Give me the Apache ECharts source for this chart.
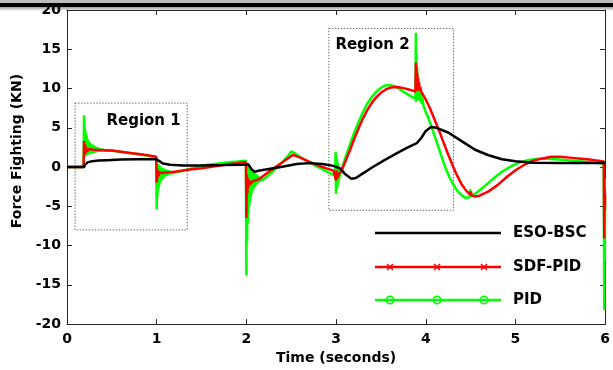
<!DOCTYPE html>
<html>
<head>
<meta charset="utf-8">
<script src="https://cdn.jsdelivr.net/npm/echarts@6/dist/echarts.min.js"></script>
<style>
html,body{margin:0;padding:0;background:#fff;}
#chart{width:613px;height:370px;}
</style>
</head>
<body>
<div id="chart"></div>
<script>
// Axis ticks
const xTicks = [0, 1, 2, 3, 4, 5, 6];
const yTicks = [-20, -15, -10, -5, 0, 5, 10, 15, 20];
const seriesNames = ['ESO-BSC', 'SDF-PID', 'PID'];

// Force fighting per controller, [time (s), force (kN)]
const esoBsc = [
  [0,0],[0.19,0],[0.2,0.3],[0.23,0.6],[0.28,0.75],[0.35,0.82],[0.45,0.88],[0.6,0.95],[0.8,1.0],[0.99,1.0],
  [1.03,0.75],[1.07,0.45],[1.15,0.3],[1.3,0.2],[1.5,0.2],[1.75,0.25],[1.95,0.3],[2.02,0.35],[2.06,-0.3],[2.09,-0.6],
  [2.15,-0.45],[2.25,-0.25],[2.4,0.05],[2.56,0.4],[2.7,0.5],[2.85,0.4],[2.97,0.15],[3.05,-0.2],[3.1,-0.9],[3.17,-1.5],
  [3.22,-1.4],[3.3,-0.8],[3.41,0.0],[3.55,0.95],[3.7,1.9],[3.8,2.5],[3.9,3.05],[3.95,3.7],[4.0,4.6],[4.06,5.1],
  [4.12,5.0],[4.25,4.4],[4.4,3.3],[4.55,2.2],[4.7,1.5],[4.85,1.0],[5.0,0.75],[5.2,0.55],[5.5,0.5],[5.8,0.5],[6.0,0.5]
];

const sdfPid = [
  [0,0],[0.185,0],[0.19,3.3],[0.195,1.5],[0.2,2.9],[0.205,1.7],[0.21,2.6],[0.216,1.9],[0.222,2.4],[0.23,2.0],
  [0.24,2.3],[0.26,2.15],[0.3,2.2],[0.4,2.15],[0.5,2.1],[0.6,1.95],[0.7,1.8],[0.8,1.65],[0.9,1.5],[0.995,1.3],
  [1.0,-2.0],[1.005,-0.3],[1.01,-1.4],[1.016,-0.5],[1.022,-1.1],[1.03,-0.7],[1.04,-0.9],[1.06,-0.75],[1.1,-0.7],[1.2,-0.6],
  [1.35,-0.35],[1.5,-0.15],[1.65,0.1],[1.8,0.35],[1.9,0.5],[1.995,0.65],
  [2.0,-6.5],[2.005,-1.0],[2.01,-3.4],[2.016,-1.4],[2.022,-2.6],[2.03,-1.7],[2.04,-2.2],[2.06,-1.9],[2.1,-1.7],[2.14,-1.55],
  [2.25,-0.6],[2.35,0.2],[2.45,1.0],[2.52,1.55],[2.6,1.2],[2.7,0.7],[2.8,0.2],[2.9,-0.2],[2.97,-0.45],
  [3.0,-1.7],[3.005,-0.4],[3.01,-1.5],[3.016,-0.7],[3.022,-1.3],[3.03,-0.9],[3.04,-1.1],[3.06,-0.5],[3.1,0.6],[3.15,2.0],
  [3.2,3.5],[3.25,4.9],[3.3,6.2],[3.35,7.3],[3.4,8.2],[3.45,8.9],[3.5,9.45],[3.55,9.85],[3.6,10.1],[3.65,10.2],
  [3.7,10.15],[3.75,10.05],[3.8,9.9],[3.85,9.75],[3.885,9.6],
  [3.89,13.3],[3.894,9.7],[3.898,12.6],[3.902,9.8],[3.906,11.9],[3.91,9.8],[3.915,11.3],[3.92,9.8],[3.926,10.8],[3.932,9.7],
  [3.94,10.2],[3.95,9.6],[3.97,9.4],[4.0,8.6],[4.05,7.4],[4.1,6.0],[4.15,4.6],[4.2,3.1],[4.25,1.6],[4.3,0.2],
  [4.35,-1.1],[4.4,-2.2],[4.45,-3.0],[4.5,-3.55],[4.505,-3.1],[4.51,-3.6],[4.55,-3.75],[4.6,-3.65],[4.7,-3.1],[4.8,-2.3],
  [4.9,-1.3],[5.0,-0.4],[5.1,0.3],[5.2,0.8],[5.3,1.1],[5.4,1.3],[5.5,1.3],[5.6,1.2],[5.7,1.1],[5.8,1.0],
  [5.9,0.85],[5.985,0.7],[5.99,-9.1],[5.994,-2.8],[5.997,-5.5],[6.0,-3.5]
];

const pid = [
  [0,0],[0.185,0],
  [0.19,6.6],[0.193,1.3],[0.196,5.4],[0.2,1.4],[0.204,4.7],[0.208,1.4],[0.212,4.2],[0.216,1.5],[0.22,3.9],[0.224,1.5],
  [0.228,3.6],[0.232,1.6],[0.236,3.4],[0.24,1.6],[0.245,3.25],[0.25,1.65],[0.255,3.1],[0.26,1.7],[0.266,3.0],[0.272,1.7],
  [0.278,2.9],[0.284,1.75],[0.29,2.8],[0.296,1.8],[0.302,2.72],[0.308,1.85],[0.314,2.65],[0.32,1.88],[0.326,2.58],[0.332,1.9],
  [0.338,2.52],[0.344,1.93],[0.35,2.46],[0.356,1.96],[0.362,2.41],[0.368,1.98],[0.374,2.36],[0.38,2.0],[0.387,2.32],[0.394,2.02],
  [0.401,2.28],[0.408,2.04],[0.416,2.25],[0.424,2.06],[0.432,2.2],[0.44,2.08],[0.45,2.12],
  [0.5,2.08],[0.6,1.95],[0.7,1.8],[0.8,1.62],[0.9,1.45],[0.995,1.25],
  [1.0,-5.4],[1.004,0.6],[1.008,-3.8],[1.012,0.4],[1.016,-3.0],[1.02,0.3],[1.024,-2.5],[1.028,0.2],[1.032,-2.2],[1.036,0.1],
  [1.04,-2.0],[1.044,0.0],[1.048,-1.8],[1.052,-0.05],[1.056,-1.65],[1.06,-0.1],[1.065,-1.5],[1.07,-0.15],[1.075,-1.4],[1.08,-0.2],
  [1.085,-1.3],[1.09,-0.25],[1.095,-1.2],[1.1,-0.3],[1.106,-1.1],[1.112,-0.35],[1.118,-1.05],[1.124,-0.4],[1.13,-1.0],[1.136,-0.45],
  [1.142,-0.95],[1.148,-0.5],[1.155,-0.9],[1.162,-0.55],[1.17,-0.85],[1.178,-0.6],[1.186,-0.8],[1.195,-0.65],[1.2,-0.75],
  [1.25,-0.6],[1.35,-0.3],[1.5,0.2],[1.65,0.4],[1.8,0.6],[1.9,0.7],[1.995,0.8],
  [2.0,-13.8],[2.004,0.3],[2.008,-9.5],[2.012,0.2],[2.016,-7.2],[2.02,0.1],[2.024,-5.9],[2.028,0.0],[2.032,-5.0],[2.036,-0.1],
  [2.04,-4.4],[2.044,-0.2],[2.048,-3.9],[2.052,-0.3],[2.056,-3.5],[2.06,-0.4],[2.064,-3.2],[2.068,-0.5],[2.072,-2.95],[2.076,-0.6],
  [2.08,-2.75],[2.085,-0.7],[2.09,-2.55],[2.095,-0.8],[2.1,-2.4],[2.105,-0.9],[2.11,-2.25],[2.115,-1.0],[2.12,-2.1],[2.126,-1.1],
  [2.132,-2.0],[2.138,-1.2],[2.144,-1.9],[2.15,-1.3],[2.157,-1.8],[2.164,-1.4],[2.172,-1.7],[2.18,-1.45],[2.19,-1.6],[2.2,-1.5],
  [2.3,-0.5],[2.4,0.6],[2.47,1.5],[2.5,2.0],[2.55,1.7],[2.65,0.9],[2.75,0.3],[2.85,-0.3],[2.95,-0.9],[2.99,-1.0],
  [2.995,1.9],[2.999,-3.4],[3.003,1.5],[3.007,-2.9],[3.011,1.0],[3.015,-2.5],[3.02,0.5],[3.025,-2.1],[3.03,0.1],[3.035,-1.6],
  [3.04,-0.3],[3.045,-1.2],[3.05,-0.5],[3.07,0.0],[3.1,1.1],[3.15,2.7],[3.2,4.3],[3.25,5.7],[3.3,7.0],[3.35,8.1],
  [3.4,8.95],[3.45,9.6],[3.5,10.1],[3.55,10.4],[3.6,10.45],[3.65,10.3],[3.7,10.0],[3.75,9.6],[3.8,9.25],[3.85,8.9],[3.885,8.7],
  [3.89,17.1],[3.893,8.3],[3.896,14.5],[3.9,8.5],[3.904,12.8],[3.908,8.6],[3.912,11.6],[3.916,8.6],[3.92,10.8],[3.925,8.5],
  [3.93,10.2],[3.935,8.4],[3.94,9.7],[3.946,8.2],[3.952,9.3],[3.958,8.0],[3.965,8.7],[3.975,7.8],[4.0,7.0],[4.03,6.2],
  [4.06,5.3],[4.1,3.9],[4.14,2.6],[4.18,1.2],[4.22,-0.1],[4.26,-1.2],[4.3,-2.1],[4.35,-3.0],[4.4,-3.6],[4.45,-3.95],
  [4.49,-3.8],[4.495,-2.8],[4.5,-3.7],[4.55,-3.4],[4.65,-2.5],[4.75,-1.5],[4.85,-0.6],[4.95,0.1],[5.05,0.6],[5.15,0.9],
  [5.25,1.05],[5.35,1.05],[5.45,1.0],[5.55,0.9],[5.65,0.8],[5.75,0.7],[5.85,0.6],[5.985,0.45],[5.99,-18.2],[5.993,-1.5],
  [5.996,-12],[6.0,-4]
];

// Highlighted regions: [start time, end time], [low force, high force]
const regionNames = ['Region 1', 'Region 2'];
const regionTimes = [[0.09, 1.34], [2.92, 4.31]];
const regionForces = [[-8.0, 8.15], [-5.5, 17.65]];

const FONT = 'DejaVu Sans';
const AXIS_COLOR = '#262626';
const colors = { 'ESO-BSC': '#000000', 'SDF-PID': '#ff0000', 'PID': '#00ff00' };

const chart = echarts.init(document.getElementById('chart'), null, { renderer: 'canvas' });

function axisBase(showLabel) {
  return {
    type: 'value',
    axisLine: { show: true, onZero: false, lineStyle: { color: AXIS_COLOR, width: 1 } },
    axisTick: { show: true, inside: true, length: 5, lineStyle: { color: AXIS_COLOR, width: 1 } },
    axisLabel: { show: showLabel, color: '#000', fontFamily: FONT, fontWeight: 'bold', fontSize: 14 },
    splitLine: { show: false }
  };
}

const xMin = xTicks[0], xMax = xTicks[xTicks.length - 1];
const yMin = yTicks[0], yMax = yTicks[yTicks.length - 1];
const xStep = xTicks[1] - xTicks[0], yStep = yTicks[1] - yTicks[0];

const xAxes = [
  Object.assign(axisBase(true), {
    position: 'bottom', min: xMin, max: xMax, interval: xStep,
    name: 'Time (seconds)', nameLocation: 'middle', nameGap: 24,
    nameTextStyle: { color: '#000', fontFamily: FONT, fontWeight: 'bold', fontSize: 14 }
  }),
  Object.assign(axisBase(false), { position: 'top', min: xMin, max: xMax, interval: xStep })
];
xAxes[0].axisLabel.margin = 8;

const yAxes = [
  Object.assign(axisBase(true), {
    position: 'left', min: yMin, max: yMax, interval: yStep,
    name: 'Force Fighting (KN)', nameLocation: 'middle', nameGap: 29, nameRotate: 90,
    nameTextStyle: { color: '#000', fontFamily: FONT, fontWeight: 'bold', fontSize: 14, padding: [0, 0, 0, 32] }
  }),
  Object.assign(axisBase(false), { position: 'right', min: yMin, max: yMax, interval: yStep })
];
yAxes[0].axisLabel.margin = 6;

function lineSeries(name, data, extra) {
  return Object.assign({
    name: name, type: 'line', data: data,
    xAxisIndex: 0, yAxisIndex: 0,
    showSymbol: false, symbol: 'none',
    lineStyle: { color: colors[name], width: 2.5 },
    itemStyle: { color: colors[name] },
    emphasis: { disabled: true },
    animation: false, silent: true
  }, extra || {});
}

// Dotted boxes; the caption sits near the top edge, right-aligned for the first box
const markAreaData = regionNames.map((n, i) => [
  {
    name: n, xAxis: regionTimes[i][0], yAxis: regionForces[i][1],
    label: i === 0
      ? { position: ['100%', 11], offset: [-7, 0], align: 'right', verticalAlign: 'top' }
      : { position: [7, 10], align: 'left', verticalAlign: 'top' }
  },
  { xAxis: regionTimes[i][1], yAxis: regionForces[i][0] }
]);

// Legend drawn as graphics: long sample lines with three markers each
const legendX0 = 375, legendX1 = 501, legendTextX = 513;
const legendRows = [233, 267, 300];
const markerXs = [390, 437, 484];
const legendGraphics = [];
seriesNames.forEach((name, i) => {
  const y = legendRows[i];
  const c = colors[name];
  legendGraphics.push({ type: 'line', shape: { x1: legendX0, y1: y, x2: legendX1, y2: y },
    style: { stroke: c, lineWidth: 2.5 }, silent: true });
  markerXs.forEach(mx => {
    if (name === 'SDF-PID') {
      legendGraphics.push({ type: 'line', shape: { x1: mx - 3, y1: y - 3, x2: mx + 3, y2: y + 3 }, style: { stroke: c, lineWidth: 1.5 } });
      legendGraphics.push({ type: 'line', shape: { x1: mx - 3, y1: y + 3, x2: mx + 3, y2: y - 3 }, style: { stroke: c, lineWidth: 1.5 } });
    } else if (name === 'PID') {
      legendGraphics.push({ type: 'circle', shape: { cx: mx, cy: y, r: 3.8 }, style: { fill: 'none', stroke: c, lineWidth: 1.6 } });
    }
  });
  legendGraphics.push({ type: 'text', x: legendTextX, y: y,
    style: { text: name, fill: '#000', fontFamily: FONT, fontWeight: 'bold', fontSize: 15, verticalAlign: 'middle', align: 'left' } });
});

// Window frame strip along the top edge
const frameGraphics = [
  { type: 'rect', shape: { x: 0, y: 0, width: 613, height: 3 }, style: { fill: '#bdbdbd' }, z: -1 },
  { type: 'rect', shape: { x: 0, y: 3, width: 613, height: 4 }, style: { fill: '#000' }, z: -1 },
  { type: 'rect', shape: { x: 0, y: 7, width: 613, height: 4 }, z: -1,
    style: { fill: new echarts.graphic.LinearGradient(0, 0, 0, 1, [
      { offset: 0, color: '#9a9a9a' }, { offset: 1, color: '#ffffff' }]) } }
];

chart.setOption({
  backgroundColor: '#ffffff',
  animation: false,
  grid: { left: 67, right: 2, top: 10, bottom: 43, containLabel: false },
  xAxis: xAxes,
  yAxis: yAxes,
  series: [
    lineSeries('PID', pid),
    lineSeries('SDF-PID', sdfPid),
    lineSeries('ESO-BSC', esoBsc, {
      markArea: {
        silent: true,
        itemStyle: { color: 'rgba(0,0,0,0)', borderColor: '#6a6a6a', borderWidth: 1, borderType: [1.5, 1.5] },
        label: { show: true, color: '#000', fontFamily: FONT, fontWeight: 'bold', fontSize: 15 },
        emphasis: { disabled: true },
        data: markAreaData
      }
    })
  ],
  graphic: frameGraphics.concat(legendGraphics)
});
</script>
</body>
</html>
